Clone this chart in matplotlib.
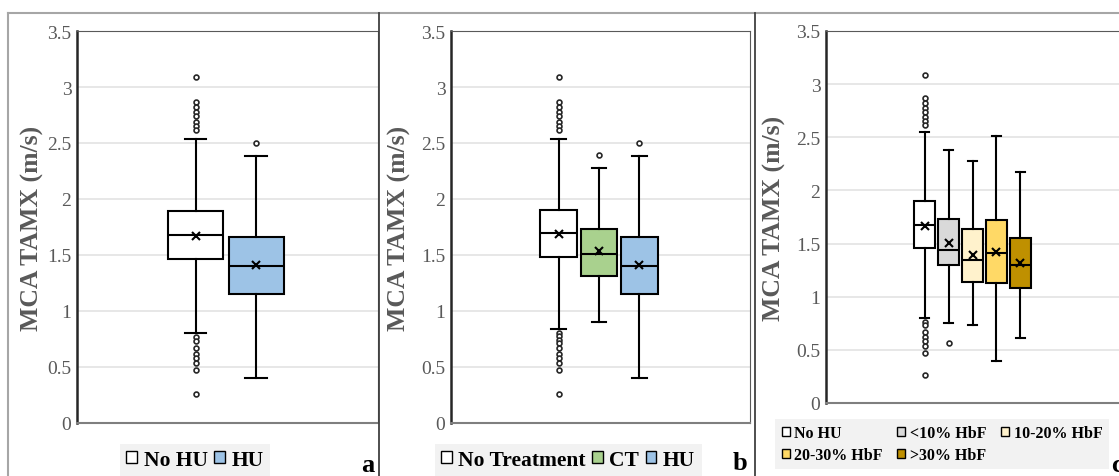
import matplotlib
matplotlib.use("Agg")
import matplotlib.pyplot as plt
from matplotlib.patches import Patch
from matplotlib.lines import Line2D

plt.rcParams['font.family'] = ['Liberation Serif', 'DejaVu Serif']

# panel a: No HU vs HU
a_labels = ['No HU', 'HU']
a_colors = ['#FFFFFF', '#9DC3E6']
a_q1 = [1.46, 1.15]
a_med = [1.68, 1.40]
a_q3 = [1.895, 1.665]
a_mean = [1.67, 1.41]
a_lo = [0.80, 0.40]
a_hi = [2.54, 2.38]
a_fliers = [
    [3.09, 2.87, 2.82, 2.78, 2.74, 2.69, 2.65, 2.62,
     0.765, 0.735, 0.67, 0.62, 0.58, 0.54, 0.47, 0.26],
    [2.50],
]

# panel b: No Treatment / CT / HU
b_labels = ['No Treatment', 'CT', 'HU']
b_colors = ['#FFFFFF', '#A9D18E', '#9DC3E6']
b_q1 = [1.48, 1.31, 1.15]
b_med = [1.70, 1.51, 1.40]
b_q3 = [1.905, 1.735, 1.665]
b_mean = [1.69, 1.535, 1.41]
b_lo = [0.84, 0.90, 0.40]
b_hi = [2.54, 2.28, 2.38]
b_fliers = [
    [3.09, 2.87, 2.82, 2.78, 2.74, 2.69, 2.65, 2.62,
     0.80, 0.775, 0.745, 0.71, 0.67, 0.62, 0.58, 0.54, 0.47, 0.26],
    [2.39],
    [2.50],
]

# panel c: by HbF level
c_labels = ['No HU', '<10% HbF', '10-20% HbF', '20-30% HbF', '>30% HbF']
c_colors = ['#FFFFFF', '#D9D9D9', '#FFF2CC', '#FFD966', '#BF9000']
c_q1 = [1.458, 1.298, 1.138, 1.132, 1.085]
c_med = [1.677, 1.442, 1.342, 1.408, 1.301]
c_q3 = [1.897, 1.734, 1.634, 1.722, 1.549]
c_mean = [1.67, 1.505, 1.392, 1.417, 1.314]
c_lo = [0.80, 0.753, 0.737, 0.398, 0.609]
c_hi = [2.546, 2.38, 2.28, 2.51, 2.17]
c_fliers = [
    [3.09, 2.87, 2.82, 2.78, 2.74, 2.69, 2.65, 2.62,
     0.765, 0.735, 0.67, 0.62, 0.58, 0.54, 0.47, 0.26],
    [0.564],
    [],
    [],
    [],
]

grey_txt = '#595959'

fig = plt.figure(figsize=(11.19, 4.77), dpi=100)


def draw_panel(rect, q1, med, q3, mean, lo, hi, fliers, colors, label_x):
    ax = fig.add_axes(rect)
    n = len(q1)
    step = 0.405 / n
    pos = [0.495 + (i - (n - 1) / 2) * step for i in range(n)]
    stats = []
    for i in range(n):
        stats.append(dict(q1=q1[i], med=med[i], q3=q3[i], mean=mean[i],
                          whislo=lo[i], whishi=hi[i], fliers=fliers[i]))
    bp = ax.bxp(stats, positions=pos, widths=0.9 * step, patch_artist=True,
                showmeans=True, capwidths=0.36 * step,
                boxprops=dict(linewidth=1.5, edgecolor='black'),
                medianprops=dict(color='black', linewidth=1.5),
                whiskerprops=dict(color='black', linewidth=1.5),
                capprops=dict(color='black', linewidth=1.5),
                meanprops=dict(marker='x', markeredgecolor='black',
                               markersize=5.5, markeredgewidth=1.5),
                flierprops=dict(marker='o', markerfacecolor='white',
                                markeredgecolor='#262626', markersize=3.5,
                                markeredgewidth=1.2))
    for patch, col in zip(bp['boxes'], colors):
        patch.set_facecolor(col)
    ax.set_xlim(0, 1)
    ax.set_ylim(0, 3.5)
    ax.set_yticks([0, 0.5, 1, 1.5, 2, 2.5, 3, 3.5])
    ax.set_yticklabels(['0', '0.5', '1', '1.5', '2', '2.5', '3', '3.5'])
    ax.set_xticks([])
    ax.tick_params(axis='y', length=0, pad=4, labelsize=14, labelcolor=grey_txt)
    ax.yaxis.grid(True, color='#E3E3E3', linewidth=1.2)
    ax.set_axisbelow(True)
    ax.spines['left'].set_color('#262626')
    ax.spines['left'].set_linewidth(1.8)
    ax.spines['bottom'].set_color('#7F7F7F')
    ax.spines['bottom'].set_linewidth(1.5)
    ax.spines['top'].set_color('#595959')
    ax.spines['right'].set_color('#595959')
    ax.set_ylabel('MCA TAMX (m/s)', fontsize=18.5, fontweight='bold', color=grey_txt)
    ax.yaxis.set_label_coords(label_x, 0.5)
    return ax


ax_a = draw_panel([77 / 1119, 53 / 477, 301 / 1119, 392 / 477],
                  a_q1, a_med, a_q3, a_mean, a_lo, a_hi, a_fliers, a_colors, -0.11)
ax_b = draw_panel([451 / 1119, 53 / 477, 299 / 1119, 392 / 477],
                  b_q1, b_med, b_q3, b_mean, b_lo, b_hi, b_fliers, b_colors, -0.135)
ax_c = draw_panel([826 / 1119, 73 / 477, 296 / 1119, 372 / 477],
                  c_q1, c_med, c_q3, c_mean, c_lo, c_hi, c_fliers, c_colors, -0.135)


def handles(labels, colors):
    return [Patch(facecolor=c, edgecolor='black', linewidth=1.0, label=l)
            for l, c in zip(labels, colors)]


leg_kw = dict(frameon=True, facecolor='#F2F2F2', edgecolor='none', fancybox=False,
              handlelength=0.5, handleheight=0.5, handletextpad=0.3,
              borderaxespad=0, framealpha=1)

fig.legend(handles=handles(a_labels, a_colors), loc='center',
           bbox_to_anchor=(195 / 1119, 16 / 477), ncol=2, columnspacing=0.3,
           borderpad=0.3, prop=dict(size=15.5, weight='bold'), **leg_kw)
fig.legend(handles=handles(b_labels, b_colors), loc='center',
           bbox_to_anchor=(568 / 1119, 16 / 477), ncol=3, columnspacing=0.3,
           borderpad=0.3, prop=dict(size=15.5, weight='bold'), **leg_kw)
hc = handles(c_labels, c_colors)
hc = [hc[0], hc[3], hc[1], hc[4], hc[2]]
fig.legend(handles=hc, loc='center', bbox_to_anchor=(942 / 1119, 32 / 477), ncol=3,
           columnspacing=0.9, labelspacing=0.35,
           prop=dict(size=11.5, weight='bold'), **leg_kw)

# panel letters
fig.text(368 / 1119, 11 / 477, 'a', fontsize=19, fontweight='bold', ha='center', va='center')
fig.text(740 / 1119, 13 / 477, 'b', fontsize=19, fontweight='bold', ha='center', va='center')
fig.text(1111 / 1119, 11 / 477, 'c', fontsize=19, fontweight='bold', ha='left', va='center')

# outer frame and dividers
fig.add_artist(Line2D([8 / 1119, 1], [463 / 477, 463 / 477], color='#A6A6A6', linewidth=1.5))
fig.add_artist(Line2D([8 / 1119, 8 / 1119], [0, 463 / 477], color='#A6A6A6', linewidth=1.5))
fig.add_artist(Line2D([379 / 1119, 379 / 1119], [0, 463 / 477], color='#404040', linewidth=1.3))
fig.add_artist(Line2D([755 / 1119, 755 / 1119], [0, 463 / 477], color='#404040', linewidth=1.3))

fig.savefig('out.png', dpi=100)
